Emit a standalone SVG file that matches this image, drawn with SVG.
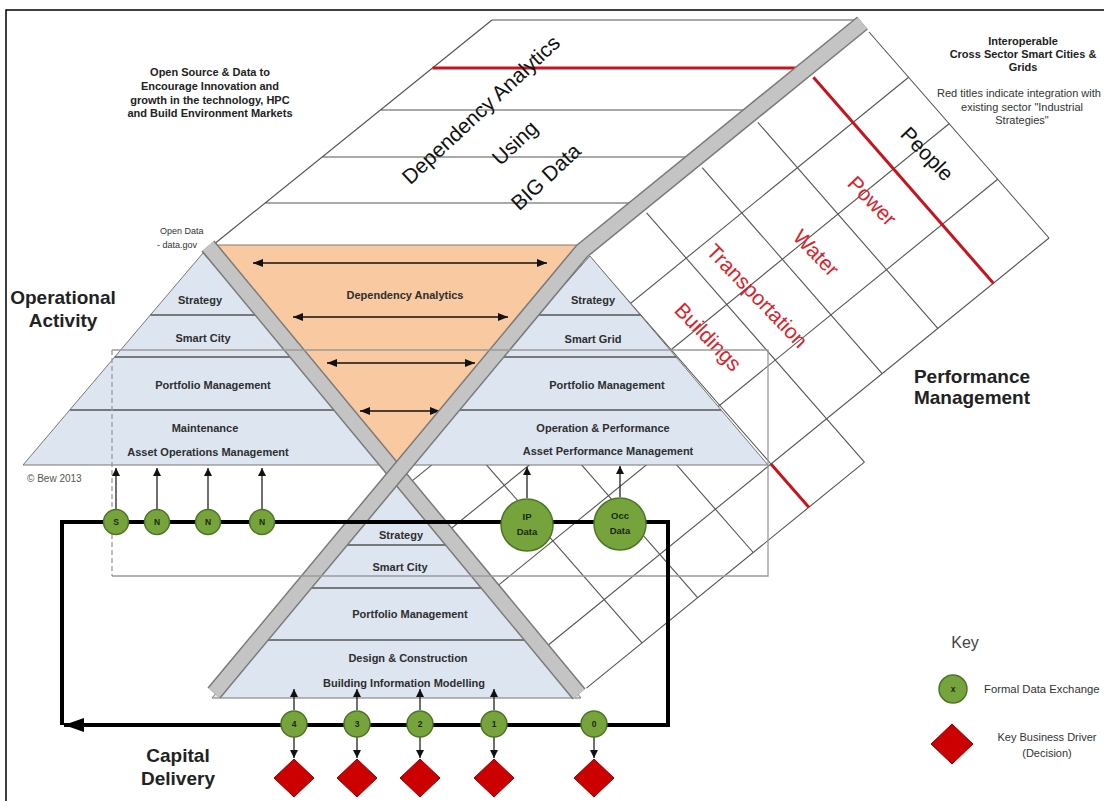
<svg xmlns="http://www.w3.org/2000/svg" width="1104" height="801" viewBox="0 0 1104 801">
<defs>
<marker id="ah" viewBox="0 0 10 8" refX="10" refY="4" markerWidth="10" markerHeight="8" markerUnits="userSpaceOnUse" orient="auto-start-reverse"><path d="M0,0 L10,4 L0,8 z" fill="#111"/></marker>
<marker id="sa" viewBox="0 0 8 8" refX="8" refY="4" markerWidth="8" markerHeight="8" markerUnits="userSpaceOnUse" orient="auto"><path d="M0,0 L8,4 L0,8 z" fill="#111"/></marker>
<marker id="big" viewBox="0 0 20 14" refX="20" refY="7" markerWidth="20" markerHeight="14" markerUnits="userSpaceOnUse" orient="auto"><path d="M0,0 L20,7 L0,14 z" fill="#000"/></marker>
</defs>
<style>
.lbl{font-family:"Liberation Sans",Arial,sans-serif;font-weight:bold;font-size:11px;fill:#2e2e2e;text-anchor:middle}
.grid{stroke:#555;stroke-width:1.1;fill:none}
.red{stroke:#c8141e;stroke-width:3;fill:none}
.band{stroke:#555;stroke-width:1.6}
.pyr{fill:#dde5f1;stroke:#777;stroke-width:1}
.big{font-family:"Liberation Sans",Arial,sans-serif;font-weight:bold;font-size:19px;fill:#222;text-anchor:middle}
.plane{font-family:"Liberation Sans",Arial,sans-serif;font-size:21px;fill:#111;text-anchor:middle}
.rt{font-family:"Liberation Sans",Arial,sans-serif;font-size:21px;fill:#d8232a;text-anchor:middle}
.gc{fill:#77a33c;stroke:#4d7526;stroke-width:1.5}
.nt{font-family:"Liberation Sans",Arial,sans-serif;font-weight:bold;font-size:8.5px;fill:#1a2a10;text-anchor:middle}
.dt{font-family:"Liberation Sans",Arial,sans-serif;font-weight:bold;font-size:9.5px;fill:#1a2a10;text-anchor:middle}
.dia{fill:#cc0000;stroke:#8a0000;stroke-width:1}
.arr{stroke:#222;stroke-width:1.3;marker-end:url(#sa);fill:none}
.dbl{stroke:#111;stroke-width:1.4;marker-start:url(#ah);marker-end:url(#ah)}
.note{font-family:"Liberation Sans",Arial,sans-serif;font-weight:bold;font-size:11px;fill:#222;text-anchor:middle}
.small{font-family:"Liberation Sans",Arial,sans-serif;font-size:11px;fill:#333;text-anchor:middle}
.barO{fill:none;stroke:#7a7a7a;stroke-width:17;stroke-linejoin:miter}
.barI{fill:none;stroke:#c4c4c4;stroke-width:14;stroke-linejoin:miter}
.plL{stroke:#555;stroke-width:1.2;fill:none}
</style>
<rect x="0" y="0" width="1104" height="801" fill="#fff"/>
<rect x="6" y="10" width="1110" height="800" fill="none" stroke="#000" stroke-width="1.5"/>

<g id="performance-grid">
<path class="grid" d="M869,32 L1049,238 M757.8,122.4 L937.8,328.4 M702.2,167.6 L882.2,373.6 M646.6,212.8 L864.4,462.1 M591,258 L771,464 M535.4,303.2 L753.2,552.5 M479.8,348.4 L697.6,597.7 M424.2,393.6 L642,642.9"/>
<path class="grid" d="M908.6,77.3 L408.2,484.1 M949.1,123.7 L448.7,530.5 M997.7,179.3 L497.3,586.1 M1049,238 L548.6,644.8 M864.4,462.1 L586.4,688.1"/>
<path class="red" d="M813.4,77.2 L993.4,283.2 M771,464 L808.8,507.3"/>
<text class="plane" x="927" y="161" transform="rotate(46 927 154)">People</text>
<text class="rt" x="872" y="208" transform="rotate(46 872 201)">Power</text>
<text class="rt" x="816" y="260" transform="rotate(46 816 253)">Water</text>
<text class="rt" x="757" y="303" transform="rotate(46 757 296)">Transportation</text>
<text class="rt" x="708" y="344" transform="rotate(46 708 337)">Buildings</text>
</g>

<g id="top-plane">
<path d="M492,20 L860,20 L577,245 L213,245 Z" fill="#fff" stroke="none"/>
<path class="plL" d="M492,20 H860 M492,20 L213,245 M380.4,110 H756 M322,157 H698 M265,203 H641"/>
<path class="red" d="M432.5,68 H807"/>
<text class="plane" x="481" y="117" transform="rotate(-43 481 110)">Dependency Analytics</text>
<text class="plane" x="515" y="150" transform="rotate(-43 515 143)">Using</text>
<text class="plane" x="546" y="184" transform="rotate(-43 546 177)">BIG Data</text>
</g>

<g id="dependency-analytics">
<path d="M210,245 L585,245 L396,471 Z" fill="#f9c9a1" stroke="#8a7a6a" stroke-width="1"/>
<text class="lbl" x="405" y="299">Dependency Analytics</text>
<line class="dbl" x1="253" y1="263" x2="547" y2="263"/>
<line class="dbl" x1="293" y1="317" x2="508" y2="317"/>
<line class="dbl" x1="327" y1="363" x2="475" y2="363"/>
<line class="dbl" x1="360" y1="411" x2="440" y2="411"/>
</g>

<g id="operational-pyramid">
<path class="pyr" d="M203,253 L23,465 L389,465 Z"/>
<path class="band" d="M150.4,315 H264 M114.7,357 H299 M70,410 H343"/>
<text class="lbl" x="200" y="304">Strategy</text>
<text class="lbl" x="203" y="342">Smart City</text>
<text class="lbl" x="213" y="389">Portfolio Management</text>
<text class="lbl" x="205" y="432">Maintenance</text>
<text class="lbl" x="208" y="456">Asset Operations Management</text>
</g>

<g id="performance-pyramid">
<path class="pyr" d="M590,256 L768,465 L403,465 Z"/>
<path class="band" d="M528,315 H640.5 M493,357 H676 M449,410 H721"/>
<text class="lbl" x="593" y="304">Strategy</text>
<text class="lbl" x="593" y="343">Smart Grid</text>
<text class="lbl" x="607" y="389">Portfolio Management</text>
<text class="lbl" x="603" y="432">Operation &amp; Performance</text>
<text class="lbl" x="608" y="455">Asset Performance Management</text>
</g>

<g id="capital-pyramid">
<path class="pyr" d="M397,472 L212,698 L581,698 Z"/>
<path class="band" d="M337,545 H456 M301,588 H492 M257,640 H536"/>
<text class="lbl" x="401" y="539">Strategy</text>
<text class="lbl" x="400" y="571">Smart City</text>
<text class="lbl" x="410" y="618">Portfolio Management</text>
<text class="lbl" x="408" y="662">Design &amp; Construction</text>
<text class="lbl" x="404" y="687">Building Information Modelling</text>
</g>

<g id="open-data">
<text x="160" y="234" font-family="Liberation Sans, Arial, sans-serif" font-size="9" fill="#333">Open Data</text>
<text x="157" y="248" font-family="Liberation Sans, Arial, sans-serif" font-size="9" fill="#333">- data.gov</text>
</g>

<g id="bars">
<path class="barO" d="M208,246 L579,694"/>
<path class="barI" d="M208,246 L579,694"/>
<path class="barO" d="M862.5,23 L582,251 L214,693"/>
<path class="barI" d="M862.5,23 L582,251 L214,693"/>
</g>

<g id="scope-box" fill="none" stroke="#9a9a9a" stroke-width="1.3">
<path d="M112,350 H768 V576 H112"/>
<path d="M112,350 V576" stroke-dasharray="5,3"/>
</g>

<g id="connectors">
<path d="M62,725 V522 H668 V725 H64" fill="none" stroke="#000" stroke-width="4" stroke-linejoin="miter" marker-end="url(#big)"/>
<line class="arr" x1="116" y1="509" x2="116" y2="468"/>
<line class="arr" x1="157" y1="509" x2="157" y2="468"/>
<line class="arr" x1="208" y1="509" x2="208" y2="468"/>
<line class="arr" x1="262" y1="509" x2="262" y2="468"/>
<line class="arr" x1="527" y1="498" x2="527" y2="467"/>
<line class="arr" x1="620" y1="497" x2="620" y2="466"/>
<line class="arr" x1="294" y1="710" x2="294" y2="689"/>
<line class="arr" x1="357" y1="710" x2="357" y2="689"/>
<line class="arr" x1="420" y1="710" x2="420" y2="689"/>
<line class="arr" x1="494" y1="710" x2="494" y2="689"/>
<line class="arr" x1="294" y1="737" x2="294" y2="758"/>
<line class="arr" x1="357" y1="737" x2="357" y2="758"/>
<line class="arr" x1="420" y1="737" x2="420" y2="758"/>
<line class="arr" x1="494" y1="737" x2="494" y2="758"/>
<line class="arr" x1="594" y1="737" x2="594" y2="758"/>
</g>

<g id="exchange-S"><circle class="gc" cx="116" cy="522" r="12.5"/><text class="nt" x="116" y="525">S</text></g>
<g id="exchange-N1"><circle class="gc" cx="157" cy="522" r="12.5"/><text class="nt" x="157" y="525">N</text></g>
<g id="exchange-N2"><circle class="gc" cx="208" cy="522" r="12.5"/><text class="nt" x="208" y="525">N</text></g>
<g id="exchange-N3"><circle class="gc" cx="262" cy="522" r="12.5"/><text class="nt" x="262" y="525">N</text></g>
<g id="exchange-IP"><circle class="gc" cx="527" cy="525" r="26"/><text class="dt" x="527" y="520">IP</text><text class="dt" x="527" y="535">Data</text></g>
<g id="exchange-Occ"><circle class="gc" cx="620" cy="524" r="26"/><text class="dt" x="620" y="519">Occ</text><text class="dt" x="620" y="534">Data</text></g>

<g id="stage-4"><circle class="gc" cx="294" cy="724" r="13"/><text class="nt" x="294" y="727">4</text><path class="dia" d="M294,759 L314,778 L294,797 L274,778 Z"/></g>
<g id="stage-3"><circle class="gc" cx="357" cy="724" r="13"/><text class="nt" x="357" y="727">3</text><path class="dia" d="M357,759 L377,778 L357,797 L337,778 Z"/></g>
<g id="stage-2"><circle class="gc" cx="420" cy="724" r="13"/><text class="nt" x="420" y="727">2</text><path class="dia" d="M420,759 L440,778 L420,797 L400,778 Z"/></g>
<g id="stage-1"><circle class="gc" cx="494" cy="724" r="13"/><text class="nt" x="494" y="727">1</text><path class="dia" d="M494,759 L514,778 L494,797 L474,778 Z"/></g>
<g id="stage-0"><circle class="gc" cx="594" cy="724" r="13"/><text class="nt" x="594" y="727">0</text><path class="dia" d="M594,759 L614,778 L594,797 L574,778 Z"/></g>

<g id="titles">
<text class="big" x="63" y="304">Operational</text>
<text class="big" x="63" y="327">Activity</text>
<text class="big" x="972" y="383">Performance</text>
<text class="big" x="972" y="404">Management</text>
<text class="big" x="178" y="762">Capital</text>
<text class="big" x="178" y="785">Delivery</text>
</g>

<g id="notes">
<text class="note" x="210" y="75.5">Open Source &amp; Data to</text>
<text class="note" x="210" y="89.5">Encourage Innovation and</text>
<text class="note" x="210" y="103.5">growth in the technology, HPC</text>
<text class="note" x="210" y="117">and Build Environment Markets</text>
<text class="note" x="1023" y="44.5" font-size="10.5">Interoperable</text>
<text class="note" x="1023" y="57.5" font-size="10.5">Cross Sector Smart Cities &amp;</text>
<text class="note" x="1023" y="70.5" font-size="10.5">Grids</text>
<text class="small" x="1019" y="97" font-size="10.3">Red titles indicate integration with</text>
<text class="small" x="1022" y="110.5" font-size="10.3">existing sector "Industrial</text>
<text class="small" x="1022" y="124" font-size="10.3">Strategies"</text>
<text x="27" y="482" font-family="Liberation Sans, Arial, sans-serif" font-size="10" fill="#555">© Bew 2013</text>
</g>

<g id="key">
<text x="965" y="648" font-family="Liberation Sans, Arial, sans-serif" font-size="16" fill="#444" text-anchor="middle">Key</text>
<circle class="gc" cx="953" cy="689" r="14"/><text class="nt" x="953" y="692">x</text>
<text x="984" y="693" font-family="Liberation Sans, Arial, sans-serif" font-size="11.3" fill="#333">Formal Data Exchange</text>
<path class="dia" d="M952,724 L973,744 L952,764 L931,744 Z"/>
<text class="small" x="1047" y="741" font-size="11.3">Key Business Driver</text>
<text class="small" x="1047" y="757" font-size="11.3">(Decision)</text>
</g>
</svg>
